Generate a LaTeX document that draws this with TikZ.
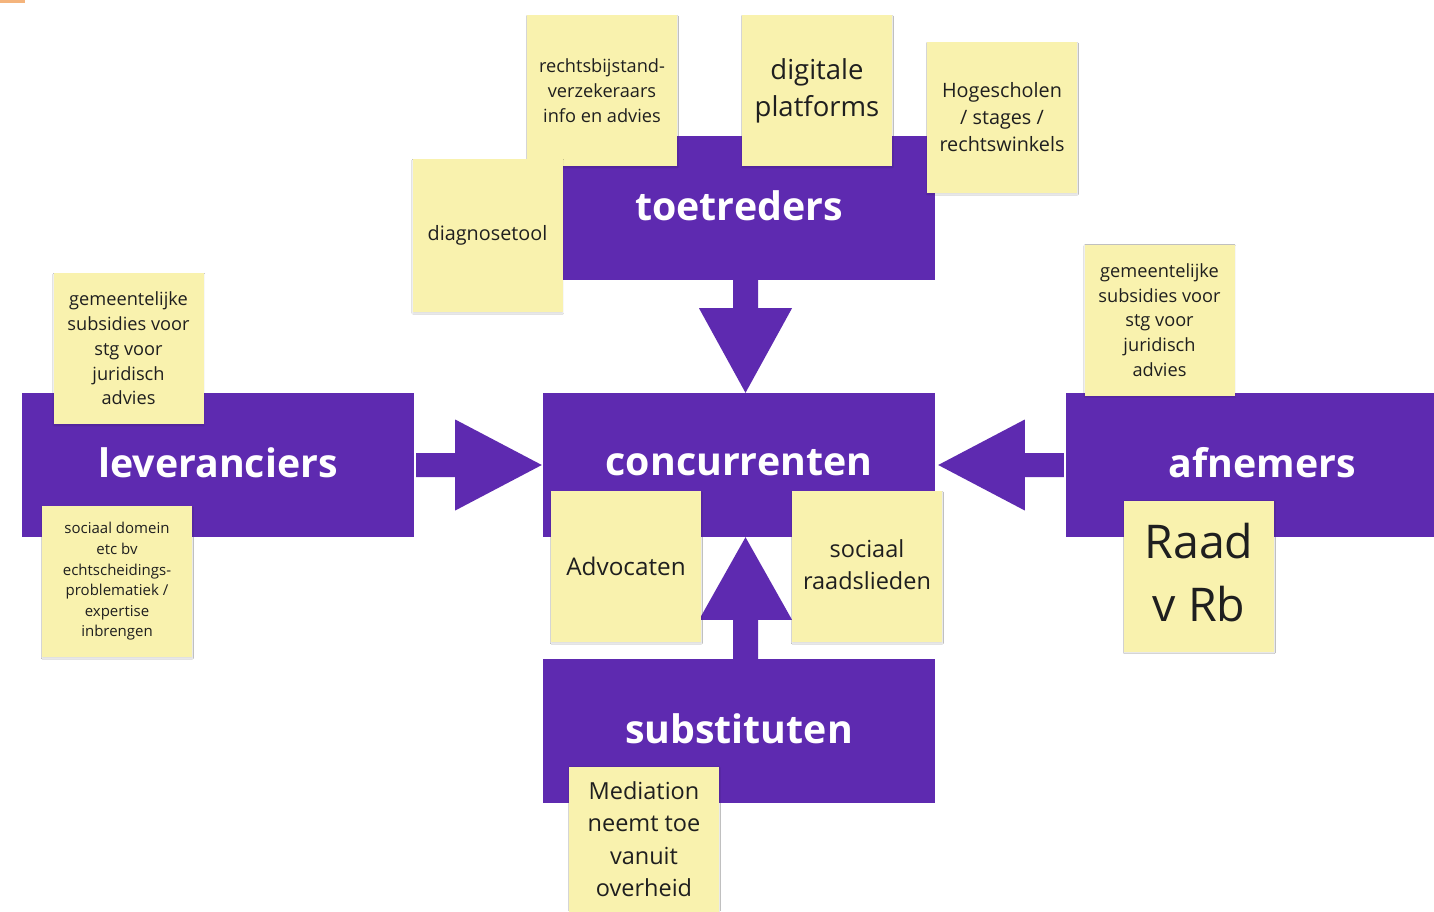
\documentclass[tikz,border=0pt]{standalone}
\usepackage{fontspec}
\setmainfont{Open Sans}
\usetikzlibrary{calc,shadows.blur}
\definecolor{pforce}{HTML}{5E2AB0}
\definecolor{sticky}{HTML}{F9F2AE}
\definecolor{tabmark}{HTML}{F4B47C}

\tikzset{
  force/.style={fill=pforce, draw=none, minimum width=392pt, minimum height=144pt,
    inner sep=0pt, text=white, text depth=5pt, font=\fontsize{39.3}{45}\bfseries\selectfont},
  bigarrow/.style={fill=pforce, draw=none},
  note/.style={fill=sticky, draw=none, minimum width=150pt, minimum height=151pt,
    inner sep=0pt, align=center, text=black!88,
    blur shadow={shadow xshift=0.4pt, shadow yshift=-1.2pt, shadow blur steps=4,
      shadow opacity=14, shadow blur radius=1pt}},
  fsA/.style={font=\fontsize{15}{20.6}\selectfont},
  fsB/.style={font=\fontsize{18.2}{24.8}\selectfont},
  fsC/.style={font=\fontsize{19.8}{27}\selectfont},
  fsD/.style={font=\fontsize{23.5}{32.2}\selectfont},
  fsE/.style={font=\fontsize{27.5}{37}\selectfont},
  fsF/.style={font=\fontsize{46.5}{63}\selectfont},
}

\begin{document}
\begin{tikzpicture}[x=1pt,y=-1pt]
\useasboundingbox (0,0) rectangle (1434,911);
\fill[white] (0,0) rectangle (1434,911);
\fill[tabmark] (0,0) rectangle (25,2.5);

% the five forces
\node[force] (toe)  at (739,208)  {toetreders};
\node[force] (conc) at (739,465)  {concurrenten};
\node[force] (lev)  at (218,465)  {leveranciers};
\node[force] (afn)  at (1262,465) {afnemers};
\node[force] (sub)  at (739,731)  {substituten};

% block arrows pointing into the centre
\coordinate (dS) at ($(toe.south)+(6.5,0)$);
\coordinate (dT) at ($(conc.north)+(6.5,0)$);
\fill[bigarrow] ($(dS)+(-12.5,0)$) -- ($(dS)+(-12.5,28)$) -- ($(dS)+(-46.5,28)$) -- (dT)
  -- ($(dS)+(46.5,28)$) -- ($(dS)+(12.5,28)$) -- ($(dS)+(12.5,0)$) -- cycle;

\coordinate (uS) at ($(sub.north)+(6.5,0)$);
\coordinate (uT) at ($(conc.south)+(6.5,0)$);
\fill[bigarrow] ($(uS)+(-12.5,0)$) -- ($(uS)+(-12.5,-39)$) -- ($(uS)+(-46.5,-39)$) -- (uT)
  -- ($(uS)+(46.5,-39)$) -- ($(uS)+(12.5,-39)$) -- ($(uS)+(12.5,0)$) -- cycle;

\coordinate (rS) at ($(lev.east)+(2,0)$);
\coordinate (rT) at ($(conc.west)+(-1,0)$);
\fill[bigarrow] ($(rS)+(0,-12)$) -- ($(rS)+(39,-12)$) -- ($(rS)+(39,-45.5)$) -- (rT)
  -- ($(rS)+(39,45.5)$) -- ($(rS)+(39,12)$) -- ($(rS)+(0,12)$) -- cycle;

\coordinate (lS) at ($(afn.west)+(-2,0)$);
\coordinate (lT) at ($(conc.east)+(3,0)$);
\fill[bigarrow] ($(lS)+(0,-12)$) -- ($(lS)+(-39,-12)$) -- ($(lS)+(-39,-45.5)$) -- (lT)
  -- ($(lS)+(-39,45.5)$) -- ($(lS)+(-39,12)$) -- ($(lS)+(0,12)$) -- cycle;

% sticky notes
\node[note,fsB] (rb)  at (602,90.5)   {rechtsbijstand-\\verzekeraars\\info en advies};
\node[note,fsE] (dp)  at (817,90.5)   {digitale\\platforms};
\node[note,fsC] (hs)  at (1002,117.5) {Hogescholen\\/ stages /\\rechtswinkels};
\node[note,fsC, minimum height=153pt] (dt) at (487.5,235.5) {diagnosetool};
\node[note,fsB] (gl)  at (128.5,348.5) {gemeentelijke\\subsidies voor\\stg voor\\juridisch\\advies};
\node[note,fsA] (sd)  at (117,581.5)  {sociaal domein\\etc bv\\echtscheidings-\\problematiek /\\expertise\\inbrengen};
\node[note,font=\fontsize{24.3}{32.2}\selectfont] (adv) at (626,566.5) {Advocaten};
\node[note,fsD, text depth=4pt] (sr)  at (867,566.5)  {sociaal\\raadslieden};
\node[note,fsB] (gr)  at (1159.5,320) {gemeentelijke\\subsidies voor\\stg voor\\juridisch\\advies};
\node[note,fsF, text depth=8pt] (rvr) at (1199,576)   {Raad\\v Rb};
\node[note,fsD, text depth=6pt] (med) at (644,842)    {Mediation\\neemt toe\\vanuit\\overheid};
\end{tikzpicture}
\end{document}
